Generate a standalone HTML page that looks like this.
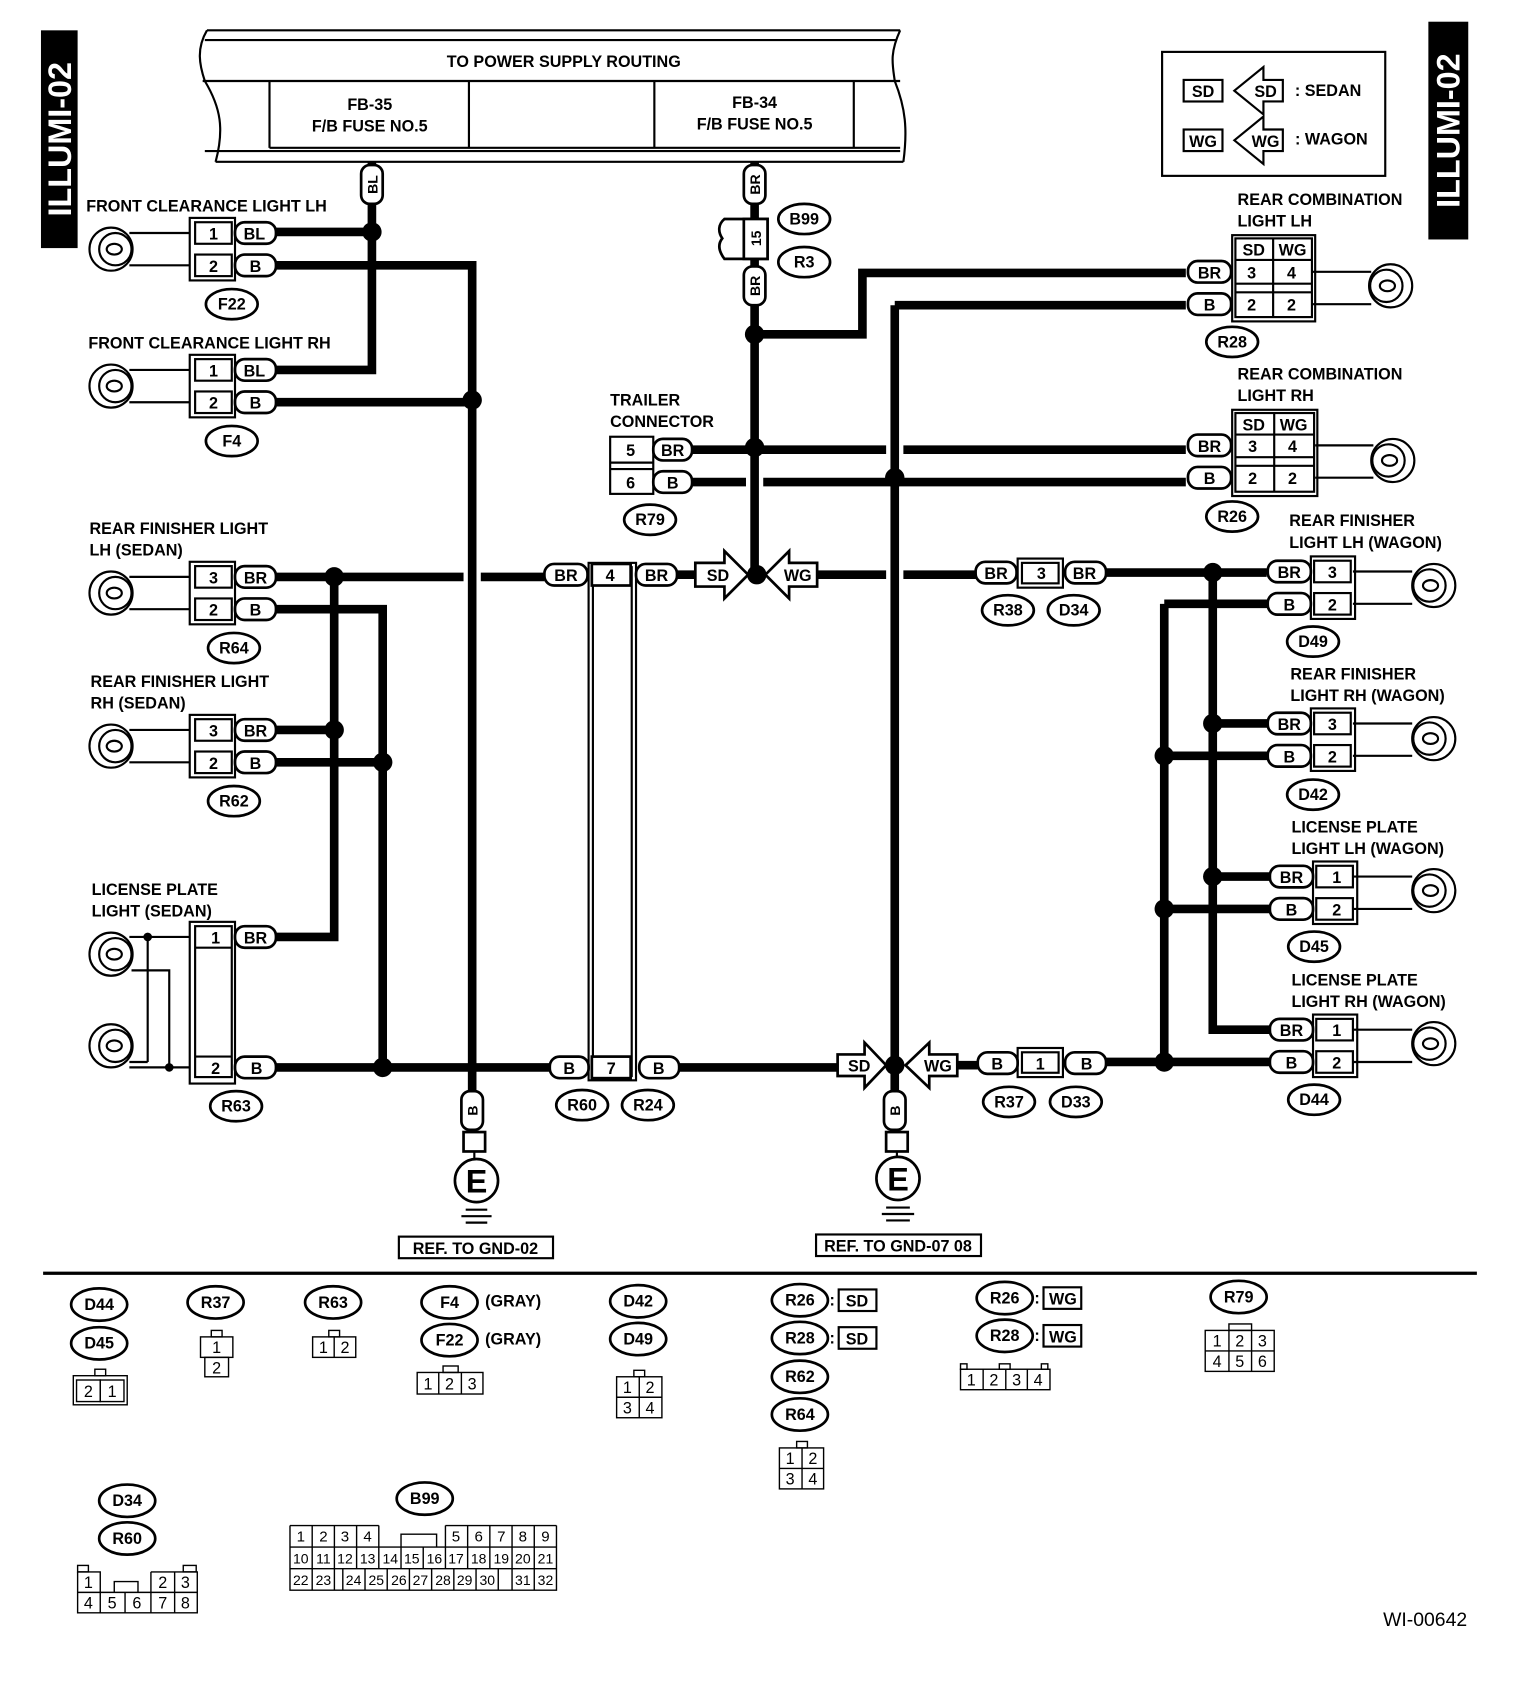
<!DOCTYPE html>
<html><head><meta charset="utf-8"><style>
html,body{margin:0;padding:0;background:#fff;}
svg{display:block;}
text{font-family:"Liberation Sans",sans-serif;font-weight:bold;fill:#000;}
.w{fill:none;stroke:#000;stroke-width:8;}
.t{fill:none;stroke:#000;stroke-width:2;}
.b{fill:#fff;stroke:#000;stroke-width:2.5;}
.n{fill:none;stroke:#000;stroke-width:1.3;}
.s{font-weight:normal;}
</style></head><body>
<svg width="1520" height="1682" viewBox="0 0 1410 1560" xmlns="http://www.w3.org/2000/svg" font-size="15" text-anchor="middle">
<rect x="38" y="28" width="34" height="202" fill="#000"/>
<text x="55" y="129" transform="rotate(-90 55 129)" font-size="30" style="fill:#fff" dy="11">ILLUMI-02</text>
<rect x="1325" y="20" width="37" height="202" fill="#000"/>
<text x="1343" y="121" transform="rotate(-90 1343 121)" font-size="30" style="fill:#fff" dy="11">ILLUMI-02</text>

<path class="t" d="M192 28 H835 M190 37 H832 M190 140 H835 M200 150 H838"/>
<path class="t" d="M192 28 C182 45 185 60 190 75 C205 100 208 120 200 150"/>
<path class="t" d="M835 28 C825 50 828 60 830 75 C840 100 842 120 838 150"/>
<path class="t" d="M188 75 H835 M250 75 V137 M435 75 V137 M607 75 V137 M792 75 V137 M250 137 H835"/>
<text x="523" y="62">TO POWER SUPPLY ROUTING</text>
<text x="343" y="102">FB-35</text><text x="343" y="122">F/B FUSE NO.5</text>
<text x="700" y="100">FB-34</text><text x="700" y="120">F/B FUSE NO.5</text>

<rect x="1078" y="48" width="207" height="115" class="t"/>
<rect x="1098" y="74" width="36" height="20" class="t" stroke-width="2.5"/><text x="1116" y="90">SD</text>
<path class="t" d="M1145 84 L1172 62 V74 H1190 V94 H1172 V106 Z"/><text x="1174" y="90">SD</text>
<text x="1232" y="89">: SEDAN</text>
<rect x="1098" y="120" width="36" height="20" class="t" stroke-width="2.5"/><text x="1116" y="136">WG</text>
<path class="t" d="M1145 130 L1172 108 V120 H1190 V140 H1172 V152 Z"/><text x="1174" y="136">WG</text>
<text x="1235" y="134">: WAGON</text>

<path class="w" d="M345 150 V343 H256 M345 215 H256"/>
<path class="w" d="M256 246 H438 V1035 M256 373 H438"/>
<path class="w" d="M256 535 H430 M446 535 H505 M310 535 V869 H256 M256 677 H310"/>
<path class="w" d="M256 565 H355 V990 M256 707 H355 M256 990 H510"/>
<path class="w" d="M628 533 H645"/>
<path class="w" d="M700 150 V533 M700 310 H800 V253 H1100"/>
<path class="w" d="M640 417 H822 M838 417 H1100 M640 447 H692 M708 447 H1100"/>
<path class="w" d="M830 283 V1035 M830 283 H1100"/>
<path class="w" d="M758 533 H822 M838 533 H905 M1025 531 H1175"/>
<path class="w" d="M1125 531 V955 H1178 M1125 671 H1178 M1125 813 H1178"/>
<path class="w" d="M1080 560 H1178 M1080 560 V985 M1080 701 H1178 M1080 843 H1178"/>
<path class="w" d="M630 990 H777 M888 988 H907 M1025 985 H1178"/>
<g fill="#000">
<circle cx="345" cy="215" r="9"/><circle cx="438" cy="371" r="9"/><circle cx="310" cy="535" r="9"/><circle cx="310" cy="677" r="9"/>
<circle cx="355" cy="707" r="9"/><circle cx="355" cy="990" r="9"/><circle cx="700" cy="310" r="9"/><circle cx="700" cy="415" r="9"/>
<circle cx="702" cy="533" r="9"/><circle cx="830" cy="443" r="9"/><circle cx="830" cy="988" r="9"/><circle cx="1125" cy="531" r="9"/>
<circle cx="1125" cy="671" r="9"/><circle cx="1125" cy="813" r="9"/><circle cx="1080" cy="701" r="9"/><circle cx="1080" cy="843" r="9"/><circle cx="1080" cy="985" r="9"/>
</g>

<rect x="335" y="153" width="20" height="36" rx="8" class="b"/><text x="345" y="171" transform="rotate(-90 345 171)" dy="5" font-size="13">BL</text>
<rect x="690" y="153" width="20" height="36" rx="8" class="b"/><text x="700" y="171" transform="rotate(-90 700 171)" dy="5" font-size="13">BR</text>
<path class="b" d="M672 203 H712 V240 H672 C666 232 666 226 670 221 C666 215 666 208 672 203 Z"/>
<rect x="690" y="203" width="22" height="37" class="b"/><text x="701" y="221" transform="rotate(-90 701 221)" dy="5" font-size="13">15</text>
<rect x="690" y="247" width="20" height="36" rx="8" class="b"/><text x="700" y="265" transform="rotate(-90 700 265)" dy="5" font-size="13">BR</text>
<ellipse cx="746" cy="203" rx="24" ry="14" class="b"/><text x="746" y="208">B99</text>
<ellipse cx="746" cy="243" rx="24" ry="14" class="b"/><text x="746" y="248">R3</text>

<g>
<text x="80" y="196" text-anchor="start">FRONT CLEARANCE LIGHT LH</text>
<text x="82" y="323" text-anchor="start">FRONT CLEARANCE LIGHT RH</text>
<text x="83" y="495" text-anchor="start">REAR FINISHER LIGHT</text><text x="83" y="515" text-anchor="start">LH (SEDAN)</text>
<text x="84" y="637" text-anchor="start">REAR FINISHER LIGHT</text><text x="84" y="657" text-anchor="start">RH (SEDAN)</text>
<text x="85" y="830" text-anchor="start">LICENSE PLATE</text><text x="85" y="850" text-anchor="start">LIGHT (SEDAN)</text>
</g>
<path class="t" d="M120 216 H176 M120 246 H176"/>
<rect x="176" y="202" width="42" height="58" class="t"/><rect x="181" y="206" width="34" height="20" class="t"/><rect x="181" y="236" width="34" height="20" class="t"/>
<text x="198" y="222">1</text><text x="198" y="252">2</text>
<rect x="218" y="206" width="38" height="20" rx="9" class="b"/><text x="236" y="222">BL</text>
<rect x="218" y="236" width="38" height="20" rx="9" class="b"/><text x="237" y="252">B</text>
<ellipse cx="215" cy="282" rx="24" ry="14" class="b"/><text x="215" y="287">F22</text>
<path class="t" d="M120 343 H176 M120 373 H176"/>
<rect x="176" y="329" width="42" height="58" class="t"/><rect x="181" y="333" width="34" height="20" class="t"/><rect x="181" y="363" width="34" height="20" class="t"/>
<text x="198" y="349">1</text><text x="198" y="379">2</text>
<rect x="218" y="333" width="38" height="20" rx="9" class="b"/><text x="236" y="349">BL</text>
<rect x="218" y="363" width="38" height="20" rx="9" class="b"/><text x="237" y="379">B</text>
<ellipse cx="215" cy="409" rx="24" ry="14" class="b"/><text x="215" y="414">F4</text>
<path class="t" d="M120 535 H176 M120 565 H176"/>
<rect x="176" y="521" width="42" height="58" class="t"/><rect x="181" y="525" width="34" height="20" class="t"/><rect x="181" y="555" width="34" height="20" class="t"/>
<text x="198" y="541">3</text><text x="198" y="571">2</text>
<rect x="218" y="525" width="38" height="20" rx="9" class="b"/><text x="237" y="541">BR</text>
<rect x="218" y="555" width="38" height="20" rx="9" class="b"/><text x="237" y="571">B</text>
<ellipse cx="217" cy="601" rx="24" ry="14" class="b"/><text x="217" y="606">R64</text>
<path class="t" d="M120 677 H176 M120 707 H176"/>
<rect x="176" y="663" width="42" height="58" class="t"/><rect x="181" y="667" width="34" height="20" class="t"/><rect x="181" y="697" width="34" height="20" class="t"/>
<text x="198" y="683">3</text><text x="198" y="713">2</text>
<rect x="218" y="667" width="38" height="20" rx="9" class="b"/><text x="237" y="683">BR</text>
<rect x="218" y="697" width="38" height="20" rx="9" class="b"/><text x="237" y="713">B</text>
<ellipse cx="217" cy="743" rx="24" ry="14" class="b"/><text x="217" y="748">R62</text>
<path class="t" d="M120 869 H176 M120 990 H176 M137 869 V985 M137 985 H120 M122 900 H157 V990"/>
<circle cx="137" cy="869" r="4"/><circle cx="157" cy="990" r="4"/>
<rect x="176" y="855" width="42" height="150" class="t"/><rect x="181" y="859" width="34" height="140" class="t"/>
<path class="t" d="M181 879 H215 M181 980 H215"/>
<text x="200" y="875">1</text><text x="200" y="996">2</text>
<rect x="218" y="859" width="38" height="20" rx="9" class="b"/><text x="237" y="875">BR</text>
<rect x="218" y="980" width="38" height="20" rx="9" class="b"/><text x="238" y="996">B</text>
<ellipse cx="219" cy="1026" rx="24" ry="14" class="b"/><text x="219" y="1031">R63</text>

<g class="t" stroke-width="2.5">
<circle cx="103" cy="231" r="20"/><circle cx="107" cy="231" r="15"/><ellipse cx="106" cy="231" rx="7" ry="5"/>
<circle cx="103" cy="358" r="20"/><circle cx="107" cy="358" r="15"/><ellipse cx="106" cy="358" rx="7" ry="5"/>
<circle cx="103" cy="550" r="20"/><circle cx="107" cy="550" r="15"/><ellipse cx="106" cy="550" rx="7" ry="5"/>
<circle cx="103" cy="692" r="20"/><circle cx="107" cy="692" r="15"/><ellipse cx="106" cy="692" rx="7" ry="5"/>
<circle cx="103" cy="885" r="20"/><circle cx="107" cy="885" r="15"/><ellipse cx="106" cy="885" rx="7" ry="5"/>
<circle cx="103" cy="970" r="20"/><circle cx="107" cy="970" r="15"/><ellipse cx="106" cy="970" rx="7" ry="5"/>
<circle cx="1290" cy="265" r="20"/><circle cx="1286" cy="265" r="15"/><ellipse cx="1287" cy="265" rx="7" ry="5"/>
<circle cx="1292" cy="427" r="20"/><circle cx="1288" cy="427" r="15"/><ellipse cx="1289" cy="427" rx="7" ry="5"/>
<circle cx="1330" cy="543" r="20"/><circle cx="1326" cy="543" r="15"/><ellipse cx="1327" cy="543" rx="7" ry="5"/>
<circle cx="1330" cy="685" r="20"/><circle cx="1326" cy="685" r="15"/><ellipse cx="1327" cy="685" rx="7" ry="5"/>
<circle cx="1330" cy="826" r="20"/><circle cx="1326" cy="826" r="15"/><ellipse cx="1327" cy="826" rx="7" ry="5"/>
<circle cx="1330" cy="968" r="20"/><circle cx="1326" cy="968" r="15"/><ellipse cx="1327" cy="968" rx="7" ry="5"/>
</g>

<text x="566" y="376" text-anchor="start">TRAILER</text><text x="566" y="396" text-anchor="start">CONNECTOR</text>
<rect x="566" y="405" width="40" height="53" class="t"/><path class="t" d="M566 429 H606 M566 435 H606"/>
<text x="585" y="423">5</text><text x="585" y="453">6</text>
<rect x="606" y="407" width="36" height="20" rx="9" class="b"/><text x="624" y="423">BR</text>
<rect x="606" y="437" width="36" height="20" rx="9" class="b"/><text x="624" y="453">B</text>
<ellipse cx="603" cy="482" rx="24" ry="14" class="b"/><text x="603" y="487">R79</text>

<rect x="546" y="522" width="44" height="480" class="t"/><rect x="550" y="526" width="36" height="472" class="t"/>
<rect x="505" y="523" width="40" height="20" rx="9" class="b"/><text x="525" y="539">BR</text>
<rect x="549" y="523" width="36" height="20" class="b"/><text x="566" y="539">4</text>
<rect x="590" y="523" width="38" height="20" rx="9" class="b"/><text x="609" y="539">BR</text>
<rect x="510" y="980" width="36" height="20" rx="9" class="b"/><text x="528" y="996">B</text>
<rect x="549" y="980" width="36" height="20" class="b"/><text x="567" y="996">7</text>
<rect x="593" y="980" width="37" height="20" rx="9" class="b"/><text x="611" y="996">B</text>
<ellipse cx="540" cy="1025" rx="24" ry="14" class="b"/><text x="540" y="1030">R60</text>
<ellipse cx="601" cy="1025" rx="24" ry="14" class="b"/><text x="601" y="1030">R24</text>

<path class="b" d="M645 522 H672 V511 L694 533 L672 555 V544 H645 Z"/><text x="666" y="539">SD</text>
<path class="b" d="M758 522 H732 V511 L710 533 L732 555 V544 H758 Z"/><text x="740" y="539">WG</text>
<path class="b" d="M777 978 H802 V967 L822 988 L802 1009 V998 H777 Z"/><text x="797" y="994">SD</text>
<path class="b" d="M888 978 H862 V967 L840 988 L862 1009 V998 H888 Z"/><text x="870" y="994">WG</text>

<rect x="905" y="521" width="38" height="20" rx="9" class="b"/><text x="924" y="537">BR</text>
<rect x="944" y="518" width="42" height="27" class="t"/><rect x="948" y="522" width="34" height="19" class="t"/><text x="966" y="537">3</text>
<rect x="988" y="521" width="38" height="20" rx="9" class="b"/><text x="1006" y="537">BR</text>
<ellipse cx="935" cy="566" rx="24" ry="14" class="b"/><text x="935" y="571">R38</text>
<ellipse cx="996" cy="566" rx="24" ry="14" class="b"/><text x="996" y="571">D34</text>
<rect x="907" y="976" width="37" height="20" rx="9" class="b"/><text x="925" y="992">B</text>
<rect x="944" y="972" width="42" height="27" class="t"/><rect x="948" y="976" width="34" height="19" class="t"/><text x="965" y="992">1</text>
<rect x="988" y="976" width="38" height="20" rx="9" class="b"/><text x="1008" y="992">B</text>
<ellipse cx="936" cy="1022" rx="24" ry="14" class="b"/><text x="936" y="1027">R37</text>
<ellipse cx="998" cy="1022" rx="24" ry="14" class="b"/><text x="998" y="1027">D33</text>

<rect x="428" y="1012" width="20" height="36" rx="8" class="b"/><text x="438" y="1030" transform="rotate(-90 438 1030)" dy="5" font-size="13">B</text>
<rect x="430" y="1050" width="20" height="18" class="b"/><path class="t" d="M440 1068 V1075"/>
<circle cx="442" cy="1095" r="20" class="b"/><text x="442" y="1106" font-size="30">E</text>
<path class="t" d="M432 1122 H452 M428 1128 H456 M432 1134 H452"/>
<rect x="370" y="1147" width="143" height="20" class="t"/><text x="441" y="1163">REF. TO GND-02</text>
<rect x="820" y="1012" width="20" height="36" rx="8" class="b"/><text x="830" y="1030" transform="rotate(-90 830 1030)" dy="5" font-size="13">B</text>
<rect x="822" y="1050" width="20" height="18" class="b"/><path class="t" d="M832 1068 V1073"/>
<circle cx="833" cy="1093" r="20" class="b"/><text x="833" y="1104" font-size="30">E</text>
<path class="t" d="M822 1120 H844 M818 1126 H848 M822 1132 H844"/>
<rect x="757" y="1145" width="153" height="20" class="t"/><text x="833" y="1161">REF. TO GND-07 08</text>

<text x="1148" y="190" text-anchor="start">REAR COMBINATION</text><text x="1148" y="210" text-anchor="start">LIGHT LH</text>
<path class="t" d="M1218 252 H1272 M1218 282 H1272"/>
<rect x="1143" y="218" width="77" height="80" class="t"/><rect x="1146" y="221" width="71" height="73" class="t"/>
<path class="t" d="M1146 241 H1217 M1181 221 V294 M1146 263 H1217 M1146 271 H1217"/>
<text x="1163" y="237">SD</text><text x="1199" y="237">WG</text>
<text x="1161" y="258">3</text><text x="1198" y="258">4</text><text x="1161" y="288">2</text><text x="1198" y="288">2</text>
<rect x="1102" y="242" width="40" height="20" rx="9" class="b"/><text x="1122" y="258">BR</text>
<rect x="1102" y="272" width="40" height="20" rx="9" class="b"/><text x="1122" y="288">B</text>
<ellipse cx="1143" cy="317" rx="24" ry="14" class="b"/><text x="1143" y="322">R28</text>
<text x="1148" y="352" text-anchor="start">REAR COMBINATION</text><text x="1148" y="372" text-anchor="start">LIGHT RH</text>
<path class="t" d="M1220 413 H1274 M1220 443 H1274"/>
<rect x="1143" y="380" width="79" height="80" class="t"/><rect x="1146" y="383" width="73" height="73" class="t"/>
<path class="t" d="M1146 403 H1219 M1182 383 V456 M1146 424 H1219 M1146 432 H1219"/>
<text x="1163" y="399">SD</text><text x="1200" y="399">WG</text>
<text x="1162" y="419">3</text><text x="1199" y="419">4</text><text x="1162" y="449">2</text><text x="1199" y="449">2</text>
<rect x="1102" y="403" width="40" height="20" rx="9" class="b"/><text x="1122" y="419">BR</text>
<rect x="1102" y="433" width="40" height="20" rx="9" class="b"/><text x="1122" y="449">B</text>
<ellipse cx="1143" cy="479" rx="24" ry="14" class="b"/><text x="1143" y="484">R26</text>

<text x="1196" y="488" text-anchor="start">REAR FINISHER</text><text x="1196" y="508" text-anchor="start">LIGHT LH (WAGON)</text>
<text x="1197" y="630" text-anchor="start">REAR FINISHER</text><text x="1197" y="650" text-anchor="start">LIGHT RH (WAGON)</text>
<text x="1198" y="772" text-anchor="start">LICENSE PLATE</text><text x="1198" y="792" text-anchor="start">LIGHT LH (WAGON)</text>
<text x="1198" y="914" text-anchor="start">LICENSE PLATE</text><text x="1198" y="934" text-anchor="start">LIGHT RH (WAGON)</text>
<g>
<path class="t" d="M1255 530 H1310 M1255 560 H1310 M1255 671 H1310 M1255 701 H1310 M1255 813 H1310 M1255 843 H1310 M1255 955 H1310 M1255 985 H1310"/>
<rect x="1216" y="516" width="41" height="58" class="t"/><rect x="1219" y="520" width="34" height="20" class="t"/><rect x="1219" y="550" width="34" height="20" class="t"/>
<text x="1236" y="536">3</text><text x="1236" y="566">2</text>
<rect x="1176" y="520" width="40" height="20" rx="9" class="b"/><text x="1196" y="536">BR</text>
<rect x="1176" y="550" width="40" height="20" rx="9" class="b"/><text x="1196" y="566">B</text>
<ellipse cx="1218" cy="595" rx="24" ry="14" class="b"/><text x="1218" y="600">D49</text>

<rect x="1216" y="657" width="41" height="58" class="t"/><rect x="1219" y="661" width="34" height="20" class="t"/><rect x="1219" y="691" width="34" height="20" class="t"/>
<text x="1236" y="677">3</text><text x="1236" y="707">2</text>
<rect x="1176" y="661" width="40" height="20" rx="9" class="b"/><text x="1196" y="677">BR</text>
<rect x="1176" y="691" width="40" height="20" rx="9" class="b"/><text x="1196" y="707">B</text>
<ellipse cx="1218" cy="737" rx="24" ry="14" class="b"/><text x="1218" y="742">D42</text>

<rect x="1218" y="799" width="41" height="58" class="t"/><rect x="1221" y="803" width="34" height="20" class="t"/><rect x="1221" y="833" width="34" height="20" class="t"/>
<text x="1240" y="819">1</text><text x="1240" y="849">2</text>
<rect x="1178" y="803" width="40" height="20" rx="9" class="b"/><text x="1198" y="819">BR</text>
<rect x="1178" y="833" width="40" height="20" rx="9" class="b"/><text x="1198" y="849">B</text>
<ellipse cx="1219" cy="878" rx="24" ry="14" class="b"/><text x="1219" y="883">D45</text>

<rect x="1218" y="941" width="41" height="58" class="t"/><rect x="1221" y="945" width="34" height="20" class="t"/><rect x="1221" y="975" width="34" height="20" class="t"/>
<text x="1240" y="961">1</text><text x="1240" y="991">2</text>
<rect x="1178" y="945" width="40" height="20" rx="9" class="b"/><text x="1198" y="961">BR</text>
<rect x="1178" y="975" width="40" height="20" rx="9" class="b"/><text x="1198" y="991">B</text>
<ellipse cx="1219" cy="1020" rx="24" ry="14" class="b"/><text x="1219" y="1025">D44</text>
</g>

<path d="M40 1181 H1370" stroke="#000" stroke-width="3"/>

<g font-size="15">
<ellipse cx="92" cy="1210" rx="26" ry="15" class="b"/><text x="92" y="1215">D44</text>
<ellipse cx="92" cy="1246" rx="26" ry="15" class="b"/><text x="92" y="1251">D45</text>
<ellipse cx="200" cy="1208" rx="26" ry="15" class="b"/><text x="200" y="1213">R37</text>
<ellipse cx="309" cy="1208" rx="26" ry="15" class="b"/><text x="309" y="1213">R63</text>
<ellipse cx="417" cy="1208" rx="26" ry="15" class="b"/><text x="417" y="1213">F4</text><text x="476" y="1212">(GRAY)</text>
<ellipse cx="417" cy="1243" rx="26" ry="15" class="b"/><text x="417" y="1248">F22</text><text x="476" y="1247">(GRAY)</text>
<ellipse cx="592" cy="1207" rx="26" ry="15" class="b"/><text x="592" y="1212">D42</text>
<ellipse cx="592" cy="1242" rx="26" ry="15" class="b"/><text x="592" y="1247">D49</text>
<ellipse cx="742" cy="1206" rx="26" ry="15" class="b"/><text x="742" y="1211">R26</text><text x="772" y="1211">:</text>
<rect x="778" y="1196" width="35" height="20" class="t" stroke-width="2.5"/><text x="795" y="1212">SD</text>
<ellipse cx="742" cy="1241" rx="26" ry="15" class="b"/><text x="742" y="1246">R28</text><text x="772" y="1246">:</text>
<rect x="778" y="1231" width="35" height="20" class="t" stroke-width="2.5"/><text x="795" y="1247">SD</text>
<ellipse cx="742" cy="1277" rx="26" ry="15" class="b"/><text x="742" y="1282">R62</text>
<ellipse cx="742" cy="1312" rx="26" ry="15" class="b"/><text x="742" y="1317">R64</text>
<ellipse cx="932" cy="1204" rx="26" ry="15" class="b"/><text x="932" y="1209">R26</text><text x="962" y="1209">:</text>
<rect x="968" y="1194" width="35" height="20" class="t" stroke-width="2.5"/><text x="986" y="1210">WG</text>
<ellipse cx="932" cy="1239" rx="26" ry="15" class="b"/><text x="932" y="1244">R28</text><text x="962" y="1244">:</text>
<rect x="968" y="1229" width="35" height="20" class="t" stroke-width="2.5"/><text x="986" y="1245">WG</text>
<ellipse cx="1149" cy="1203" rx="26" ry="15" class="b"/><text x="1149" y="1208">R79</text>
<ellipse cx="118" cy="1392" rx="26" ry="15" class="b"/><text x="118" y="1397">D34</text>
<ellipse cx="118" cy="1427" rx="26" ry="15" class="b"/><text x="118" y="1432">R60</text>
<ellipse cx="394" cy="1390" rx="26" ry="15" class="b"/><text x="394" y="1395">B99</text>
</g>
<g class="s" font-size="15">
<rect x="68" y="1276" width="50" height="27" class="n"/><rect x="88" y="1270" width="10" height="6" class="n"/>
<rect x="71" y="1280" width="22" height="20" class="n"/><rect x="93" y="1280" width="22" height="20" class="n"/>
<text x="82" y="1296" class="s">2</text><text x="104" y="1296" class="s">1</text>
<rect x="186" y="1240" width="30" height="19" class="n"/><rect x="196" y="1234" width="10" height="6" class="n"/><rect x="190" y="1259" width="22" height="18" class="n"/>
<text x="201" y="1255" class="s">1</text><text x="201" y="1274" class="s">2</text>
<rect x="290" y="1240" width="40" height="19" class="n"/><path class="n" d="M310 1240 V1259"/><rect x="305" y="1234" width="10" height="6" class="n"/>
<text x="300" y="1255" class="s">1</text><text x="320" y="1255" class="s">2</text>
<rect x="387" y="1273" width="61" height="20" class="n"/><path class="n" d="M407 1273 V1293 M428 1273 V1293"/><rect x="411" y="1267" width="14" height="6" class="n"/>
<text x="397" y="1289" class="s">1</text><text x="417" y="1289" class="s">2</text><text x="438" y="1289" class="s">3</text>
<rect x="572" y="1277" width="42" height="38" class="n"/><path class="n" d="M593 1277 V1315 M572 1296 H614"/><rect x="588" y="1271" width="10" height="6" class="n"/>
<text x="582" y="1292" class="s">1</text><text x="603" y="1292" class="s">2</text><text x="582" y="1311" class="s">3</text><text x="603" y="1311" class="s">4</text>
<rect x="723" y="1343" width="41" height="38" class="n"/><path class="n" d="M744 1343 V1381 M723 1362 H764"/><rect x="739" y="1337" width="10" height="6" class="n"/>
<text x="733" y="1358" class="s">1</text><text x="754" y="1358" class="s">2</text><text x="733" y="1377" class="s">3</text><text x="754" y="1377" class="s">4</text>
<rect x="891" y="1270" width="83" height="19" class="n"/><path class="n" d="M912 1270 V1289 M933 1270 V1289 M953 1270 V1289"/>
<rect x="891" y="1265" width="6" height="5" class="n"/><rect x="927" y="1265" width="10" height="5" class="n"/><rect x="966" y="1265" width="6" height="5" class="n"/>
<text x="901" y="1285" class="s">1</text><text x="922" y="1285" class="s">2</text><text x="943" y="1285" class="s">3</text><text x="963" y="1285" class="s">4</text>
<rect x="1118" y="1234" width="64" height="38" class="n"/><path class="n" d="M1140 1234 V1272 M1161 1234 V1272 M1118 1253 H1182"/><rect x="1140" y="1228" width="21" height="6" class="n"/>
<text x="1129" y="1249" class="s">1</text><text x="1150" y="1249" class="s">2</text><text x="1171" y="1249" class="s">3</text>
<text x="1129" y="1268" class="s">4</text><text x="1150" y="1268" class="s">5</text><text x="1171" y="1268" class="s">6</text>
<path class="n" d="M72 1458 H93 V1477 M72 1458 V1496 H183 V1458 H162 M140 1458 V1477 M140 1458 H162 M72 1477 H183 M93 1477 V1496 M116 1477 V1496 M140 1477 V1496 M162 1458 V1496 M106 1477 V1467 H128 V1477"/>
<rect x="72" y="1452" width="10" height="6" class="n"/><rect x="170" y="1452" width="12" height="6" class="n"/>
<text x="82" y="1473" class="s">1</text><text x="151" y="1473" class="s">2</text><text x="172" y="1473" class="s">3</text>
<text x="82" y="1492" class="s">4</text><text x="104" y="1492" class="s">5</text><text x="127" y="1492" class="s">6</text><text x="151" y="1492" class="s">7</text><text x="172" y="1492" class="s">8</text>
<!-- B99 -->
<g font-size="14">
<path class="n" d="M269 1415 H351.4 M413.2 1415 H516.2 M269 1415 V1475 H516.2 V1415 M269 1435 H516.2 M269 1455 H516.2"/>
<path class="n" d="M289.6 1415 V1455 M310.2 1415 V1455 M330.8 1415 V1455 M351.4 1415 V1455 M372 1435 V1455 M392.6 1435 V1455 M413.2 1415 V1455 M433.8 1415 V1455 M454.4 1415 V1455 M475 1415 V1455 M495.6 1415 V1455"/>
<path class="n" d="M372 1435 V1423 H405 V1435"/>
<path class="n" d="M289.6 1455 V1475 M310.2 1455 V1475 M318 1455 V1475 M338.6 1455 V1475 M359.2 1455 V1475 M379.8 1455 V1475 M400.4 1455 V1475 M421 1455 V1475 M441.6 1455 V1475 M462.2 1455 V1475 M475 1455 V1475 M495.6 1455 V1475"/>
<text x="279" y="1430" class="s">1</text><text x="300" y="1430" class="s">2</text><text x="320" y="1430" class="s">3</text><text x="341" y="1430" class="s">4</text>
<text x="423" y="1430" class="s">5</text><text x="444" y="1430" class="s">6</text><text x="465" y="1430" class="s">7</text><text x="485" y="1430" class="s">8</text><text x="506" y="1430" class="s">9</text>
<text x="279" y="1450" class="s" font-size="13">10</text><text x="300" y="1450" class="s" font-size="13">11</text><text x="320" y="1450" class="s" font-size="13">12</text><text x="341" y="1450" class="s" font-size="13">13</text><text x="362" y="1450" class="s" font-size="13">14</text><text x="382" y="1450" class="s" font-size="13">15</text><text x="403" y="1450" class="s" font-size="13">16</text><text x="423" y="1450" class="s" font-size="13">17</text><text x="444" y="1450" class="s" font-size="13">18</text><text x="465" y="1450" class="s" font-size="13">19</text><text x="485" y="1450" class="s" font-size="13">20</text><text x="506" y="1450" class="s" font-size="13">21</text>
<text x="279" y="1470" class="s" font-size="13">22</text><text x="300" y="1470" class="s" font-size="13">23</text><text x="328" y="1470" class="s" font-size="13">24</text><text x="349" y="1470" class="s" font-size="13">25</text><text x="370" y="1470" class="s" font-size="13">26</text><text x="390" y="1470" class="s" font-size="13">27</text><text x="411" y="1470" class="s" font-size="13">28</text><text x="431" y="1470" class="s" font-size="13">29</text><text x="452" y="1470" class="s" font-size="13">30</text><text x="485" y="1470" class="s" font-size="13">31</text><text x="506" y="1470" class="s" font-size="13">32</text>
</g>
</g>
<text x="1322" y="1508" class="s" font-size="18" style="font-weight:normal">WI-00642</text>
</svg>
</body></html>
